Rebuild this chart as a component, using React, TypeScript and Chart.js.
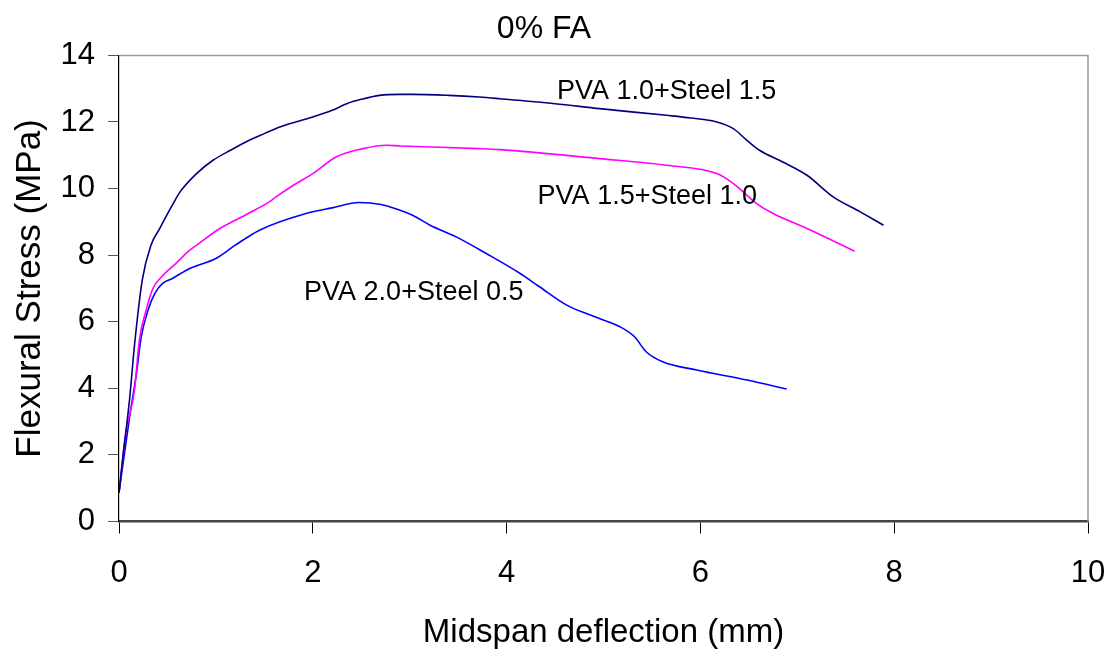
import React, { useEffect, useRef } from "react";
import { Chart, registerables } from "chart.js";

Chart.register(...registerables);

const FONT = "'Liberation Sans', Arial, sans-serif";

const titleText = "0% FA";
const xAxisTitle = "Midspan deflection (mm)";
const yAxisTitle = "Flexural Stress (MPa)";

const seriesNames = ["PVA 1.0+Steel 1.5", "PVA 1.5+Steel 1.0", "PVA 2.0+Steel 0.5"];
const seriesColors = ["#000080", "#FF00FF", "#0000FF"];

// PVA 1.0 + Steel 1.5
const s1X = [0, 0.04, 0.11, 0.16, 0.24, 0.33, 0.42, 0.55, 0.63, 0.8, 0.97, 1.15, 1.31, 1.5, 1.66, 2.0, 2.2, 2.35, 2.5, 2.69, 2.9, 3.03, 3.4, 3.72, 3.93, 4.5, 4.96, 5.65, 5.9, 6.17, 6.34, 6.48, 6.61, 6.85, 7.1, 7.37, 7.65, 7.89];
const s1Y = [0.86, 1.94, 3.7, 5.3, 7.25, 8.3, 8.8, 9.5, 9.9, 10.45, 10.85, 11.15, 11.4, 11.65, 11.85, 12.15, 12.35, 12.55, 12.68, 12.8, 12.83, 12.83, 12.8, 12.75, 12.7, 12.55, 12.4, 12.2, 12.12, 12.0, 11.8, 11.45, 11.15, 10.8, 10.4, 9.75, 9.3, 8.9];

// PVA 1.5 + Steel 1.0
const s2X = [0, 0.07, 0.16, 0.21, 0.28, 0.35, 0.44, 0.59, 0.73, 0.83, 1.04, 1.3, 1.55, 1.62, 1.8, 2.0, 2.24, 2.52, 2.76, 2.9, 3.72, 3.93, 4.96, 5.65, 6.17, 6.34, 6.48, 6.58, 6.75, 7.1, 7.59];
const s2Y = [0.86, 2.65, 3.95, 5.45, 6.35, 7.0, 7.35, 7.76, 8.15, 8.36, 8.8, 9.2, 9.6, 9.75, 10.1, 10.45, 10.95, 11.2, 11.3, 11.28, 11.2, 11.17, 10.9, 10.7, 10.45, 10.15, 9.8, 9.55, 9.25, 8.8, 8.12];

// PVA 2.0 + Steel 0.5
const s3X = [0, 0.11, 0.18, 0.23, 0.3, 0.37, 0.45, 0.55, 0.73, 1.0, 1.2, 1.45, 1.93, 2.2, 2.48, 2.69, 2.9, 3.03, 3.21, 3.48, 3.79, 4.14, 4.34, 4.62, 4.89, 5.17, 5.32, 5.44, 5.61, 5.96, 6.48, 6.89];
const s3Y = [0.86, 3.15, 4.45, 5.55, 6.35, 6.85, 7.15, 7.3, 7.6, 7.9, 8.3, 8.75, 9.25, 9.42, 9.58, 9.53, 9.35, 9.2, 8.9, 8.55, 8.05, 7.45, 7.05, 6.5, 6.17, 5.85, 5.55, 5.1, 4.8, 4.55, 4.25, 3.98];

// label anchor positions (data units, left/middle anchored)
const labelX = [4.52, 4.32, 1.91];
const labelY = [12.92, 9.77, 6.89];

const xMin = 0, xMax = 10, xStep = 2;
const yMin = 0, yMax = 14, yStep = 2;

const toPoints = (xs: number[], ys: number[]) => xs.map((x, i) => ({ x, y: ys[i] }));

const frameAndLabels = {
  id: "frameAndLabels",
  afterDatasetsDraw(chart: any) {
    const { ctx, chartArea, scales } = chart;
    ctx.save();
    ctx.strokeStyle = "#9a9a9a";
    ctx.lineWidth = 1.5;
    ctx.beginPath();
    ctx.moveTo(chartArea.left, chartArea.top);
    ctx.lineTo(chartArea.right, chartArea.top);
    ctx.lineTo(chartArea.right, chartArea.bottom);
    ctx.stroke();
    ctx.fillStyle = "#000";
    ctx.font = `27px ${FONT}`;
    ctx.textAlign = "left";
    ctx.textBaseline = "middle";
    seriesNames.forEach((name, i) => {
      ctx.fillText(name, scales.x.getPixelForValue(labelX[i]), scales.y.getPixelForValue(labelY[i]));
    });
    ctx.restore();
  },
};

export default function App() {
  const ref = useRef<HTMLCanvasElement>(null);
  useEffect(() => {
    if (!ref.current) return;
    const series = [toPoints(s1X, s1Y), toPoints(s2X, s2Y), toPoints(s3X, s3Y)];
    const chart = new Chart(ref.current, {
      type: "line",
      data: {
        datasets: series.map((data, i) => ({
          label: seriesNames[i],
          data,
          borderColor: seriesColors[i],
          backgroundColor: seriesColors[i],
          borderWidth: 1.6,
          pointRadius: 0,
          cubicInterpolationMode: "monotone",
          fill: false,
        })),
      },
      options: {
        animation: false,
        responsive: false,
        layout: { padding: { left: 0, right: 27, top: 0, bottom: 0 } },
        plugins: {
          legend: { display: false },
          tooltip: { enabled: false },
          title: {
            display: true,
            text: titleText,
            color: "#000",
            font: { family: FONT, size: 32, weight: "normal" },
            padding: { top: 10, bottom: 7 },
          },
        },
        scales: {
          x: {
            type: "linear",
            min: xMin,
            max: xMax,
            afterFit: (s: any) => { s.height = 134.5; s.paddingLeft = 0; s.paddingRight = 0; },
            ticks: { stepSize: xStep, color: "#000", font: { family: FONT, size: 31 }, padding: 21 },
            grid: { drawOnChartArea: false, drawTicks: true, tickLength: 12, tickColor: "#000" },
            border: { display: true, color: "#444", width: 2.5 },
            title: {
              display: true,
              text: xAxisTitle,
              color: "#000",
              font: { family: FONT, size: 33, weight: "normal" },
              padding: { top: 0, bottom: 3 },
            },
          },
          y: {
            type: "linear",
            min: yMin,
            max: yMax,
            afterFit: (s: any) => { s.width = 119; },
            ticks: { stepSize: yStep, color: "#000", font: { family: FONT, size: 31 }, padding: 13 },
            grid: { drawOnChartArea: false, drawTicks: true, tickLength: 11, tickColor: "#555" },
            border: { display: true, color: "#000", width: 1.2 },
            title: {
              display: true,
              text: yAxisTitle,
              color: "#000",
              font: { family: FONT, size: 35, weight: "normal" },
              padding: { top: 9, bottom: 0 },
            },
          },
        },
      },
      plugins: [frameAndLabels],
    });
    return () => chart.destroy();
  }, []);
  return (
    <div style={{ position: "fixed", left: 0, top: 0, width: 1115, height: 656, background: "#fff" }}>
      <canvas ref={ref} width={1115} height={656} style={{ display: "block" }} />
    </div>
  );
}
